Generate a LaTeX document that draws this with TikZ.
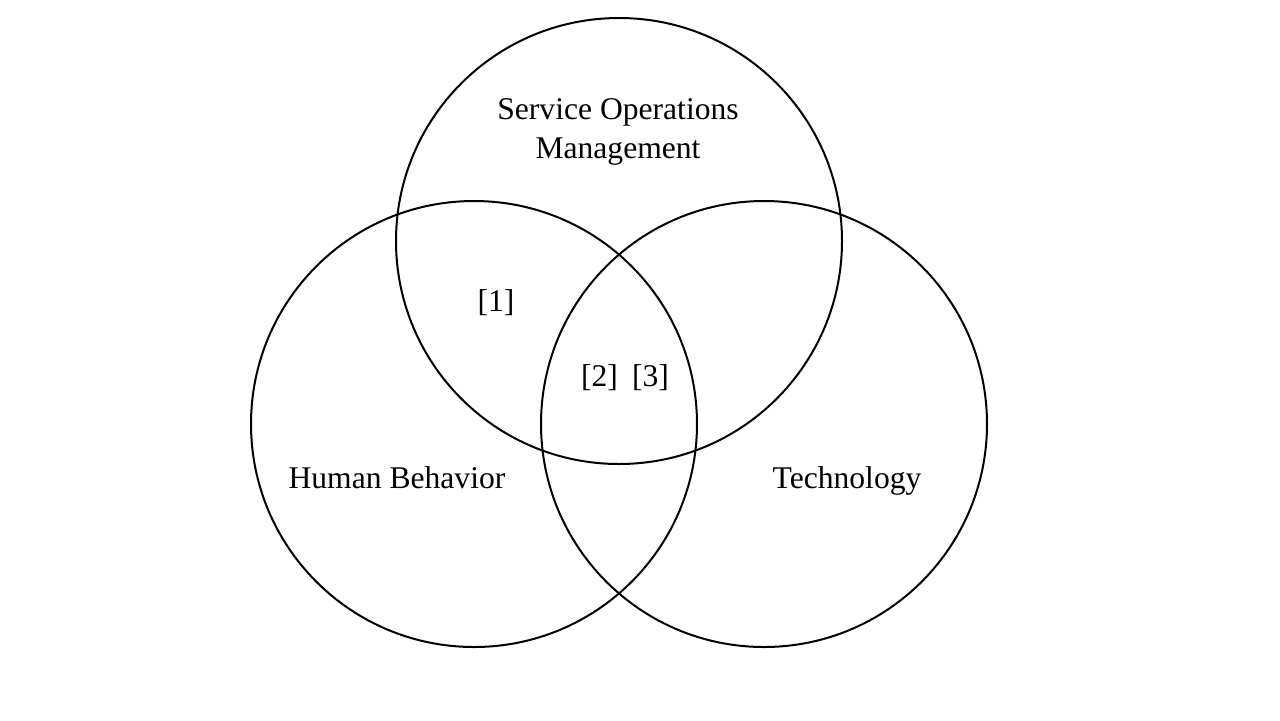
\documentclass[tikz,border=0pt]{standalone}
\usepackage{fontspec}
\setmainfont{Liberation Serif}
\tikzset{
  ring/.style={draw, line width=1pt, circle, minimum size=223pt, inner sep=0pt},
  tag/.style={font=\fontsize{15.8}{19.5}\selectfont, align=center, inner sep=0pt}
}
\begin{document}
\begin{tikzpicture}[x=0.5pt,y=-0.5pt]
    \useasboundingbox (0,0) rectangle (1280,720);
    \node [ring] (S) at (619,241) {};
    \node [ring] (H) at (474,424) {};
    \node [ring] (T) at (764,424) {};
    \node [tag] (S_lbl) at (618,132) {Service Operations\\Management};
    \node [tag] (H_lbl) at (397,478) {Human Behavior};
    \node [tag] (T_lbl) at (847,481) {Technology};
    \node [tag] (R1) at (496,303) {[1]};
    \node [tag] (R23) at (625,378) {[2]\hspace{0.45em}[3]};
  \end{tikzpicture}
\end{document}
